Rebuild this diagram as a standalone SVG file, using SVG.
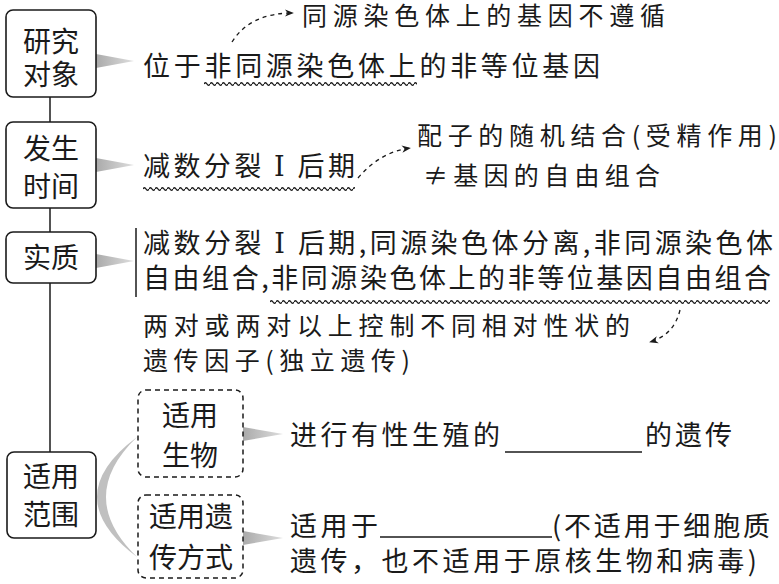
<svg xmlns="http://www.w3.org/2000/svg" width="779" height="584" viewBox="0 0 779 584">
<style>
text{font-family:"Noto Sans CJK SC","Noto Sans CJK JP",sans-serif;fill:#1a1a1a}
.bx{font-size:28px;text-anchor:middle}
.t{font-size:27px}
.s{font-size:25px}
.rn{font-family:"DejaVu Serif","Liberation Serif","Noto Sans CJK SC",serif}
.box{fill:#fff;stroke:#1a1a1a;stroke-width:1.6}
.dbox{fill:#fff;stroke:#1a1a1a;stroke-width:1.5;stroke-dasharray:5 4}
.wedge{fill:url(#wg)}
.dash{fill:none;stroke:#1a1a1a;stroke-width:1.3;stroke-dasharray:4 4;marker-end:url(#ah)}
.ln{stroke:#1a1a1a;stroke-width:1.5;fill:none}
</style>
<defs>
<linearGradient id="wg" x1="0" y1="0" x2="1" y2="0">
<stop offset="0" stop-color="#aaaaaa"/>
<stop offset="1" stop-color="#dedede"/>
</linearGradient>
<pattern id="wave" x="0" y="0" width="6" height="6" patternUnits="userSpaceOnUse">
<path d="M0,3 Q1.5,0.6 3,3 T6,3" fill="none" stroke="#1a1a1a" stroke-width="1.4"/>
</pattern>
<marker id="ah" viewBox="0 0 10 10" refX="9" refY="5" markerWidth="9" markerHeight="9" markerUnits="userSpaceOnUse" orient="auto">
<path d="M0,1 L10,5 L0,9 L3,5 Z" fill="#1a1a1a"/>
</marker>
</defs>
<rect width="779" height="584" fill="#fff"/>

<g id="connectors">
<line class="ln" x1="50" y1="97" x2="50" y2="452"/>
<polygon class="wedge" points="96,54 96,68 134,61"/>
<polygon class="wedge" points="96,158 96,172 134,165"/>
<polygon class="wedge" points="96,254 96,268 134,261"/>
<path d="M137,437 Q57,497 137,557 Q75,497 137,437 Z" fill="#c0c0c0"/>
<polygon class="wedge" points="243,427 243,441 283,434"/>
<polygon class="wedge" points="243,531 243,545 283,538"/>
<path class="dash" d="M232,42 Q250,13 293,13"/>
<path class="dash" d="M358,178 Q380,152 410,148"/>
<path class="dash" d="M680,310 Q674,335 650,342"/>
</g>

<g id="n-yanjiu">
<rect class="box" x="6" y="10" width="90" height="87" rx="7"/>
<text class="bx" x="51" y="52">研究</text>
<text class="bx" x="51" y="85">对象</text>
</g>
<g id="n-fasheng">
<rect class="box" x="6" y="122" width="90" height="86" rx="7"/>
<text class="bx" x="51" y="159">发生</text>
<text class="bx" x="51" y="197">时间</text>
</g>
<g id="n-shizhi">
<rect class="box" x="6" y="232" width="90" height="51" rx="7"/>
<text class="bx" x="51" y="268">实质</text>
</g>
<g id="n-fanwei">
<rect class="box" x="7" y="452" width="89" height="86" rx="7"/>
<text class="bx" x="51" y="487">适用</text>
<text class="bx" x="51" y="525">范围</text>
</g>
<g id="n-shengwu">
<rect class="dbox" x="138" y="390" width="105" height="87" rx="8"/>
<text class="bx" x="190" y="426">适用</text>
<text class="bx" x="190" y="466">生物</text>
</g>
<g id="n-fangshi">
<rect class="dbox" x="138" y="495" width="105" height="83" rx="8"/>
<text class="bx" x="191" y="527">适用遗</text>
<text class="bx" x="191" y="568">传方式</text>
</g>

<g id="n-row1">
<text class="s" x="302" y="25" textLength="363" lengthAdjust="spacing">同源染色体上的基因不遵循</text>
<text class="t" x="143" y="76" textLength="457" lengthAdjust="spacing">位于非同源染色体上的非等位基因</text>
<rect transform="translate(204,81)" width="213" height="6" fill="url(#wave)"/>
</g>
<g id="n-row2">
<text class="t" x="143" y="176" textLength="212" lengthAdjust="spacing">减数分裂 <tspan class="rn">Ⅰ</tspan> 后期</text>
<rect transform="translate(143,186)" width="212" height="6" fill="url(#wave)"/>
<text class="s" x="417" y="145" textLength="360" lengthAdjust="spacing">配子的随机结合(受精作用)</text>
<text class="s" x="423" y="185" textLength="237" lengthAdjust="spacing">≠基因的自由组合</text>
</g>
<g id="n-row3">
<line class="ln" x1="136" y1="228" x2="136" y2="297"/>
<text class="t" x="143" y="253" textLength="630" lengthAdjust="spacing">减数分裂 <tspan class="rn">Ⅰ</tspan> 后期,同源染色体分离,非同源染色体</text>
<text class="t" x="143" y="288" textLength="628" lengthAdjust="spacing">自由组合,非同源染色体上的非等位基因自由组合</text>
<rect transform="translate(270,299)" width="500" height="6" fill="url(#wave)"/>
<text class="s" x="143" y="335" textLength="487" lengthAdjust="spacing">两对或两对以上控制不同相对性状的</text>
<text class="s" x="143" y="370" textLength="267" lengthAdjust="spacing">遗传因子(独立遗传)</text>
</g>
<g id="n-row4">
<text class="t" x="290" y="445" textLength="210" lengthAdjust="spacing">进行有性生殖的</text>
<line class="ln" x1="505" y1="452" x2="642" y2="452"/>
<text class="t" x="645" y="445" textLength="87" lengthAdjust="spacing">的遗传</text>
<text class="t" x="290" y="536" textLength="88" lengthAdjust="spacing">适用于</text>
<line class="ln" x1="380" y1="537" x2="552" y2="537"/>
<text class="t" x="552" y="536" textLength="218" lengthAdjust="spacing">(不适用于细胞质</text>
<text class="t" x="290" y="571" textLength="467" lengthAdjust="spacing">遗传，也不适用于原核生物和病毒)</text>
</g>
</svg>
